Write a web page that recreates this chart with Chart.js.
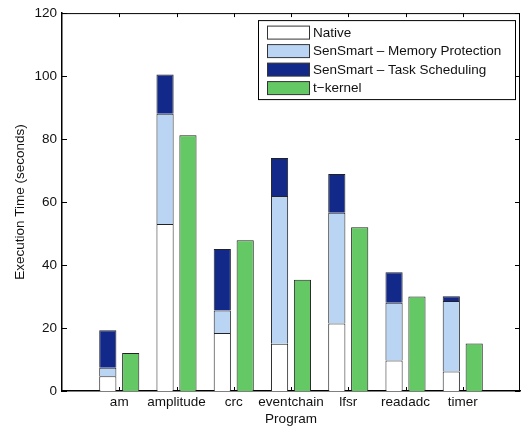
<!DOCTYPE html>
<html>
<head>
<meta charset="utf-8">
<script src="https://cdn.jsdelivr.net/npm/chart.js@4/dist/chart.umd.min.js"></script>
<style>
html,body{margin:0;padding:0;background:#fff;}
canvas{display:block;}
</style>
</head>
<body>
<canvas id="c" width="526" height="427"></canvas>
<script>
// ---- data ----
const programs = ['am', 'amplitude', 'crc', 'eventchain', 'lfsr', 'readadc', 'timer'];
const nativeTime = [4.7, 53.0, 18.4, 15.0, 21.4, 9.7, 6.2];
const memProtExtra = [2.7, 35.0, 7.2, 46.9, 35.2, 18.3, 22.4];
const taskSchedExtra = [11.9, 12.5, 19.5, 12.1, 12.3, 9.7, 1.5];
const tKernelTime = [12.1, 81.2, 47.9, 35.3, 52.0, 30.0, 15.1];
const yTicks = [0, 20, 40, 60, 80, 100, 120];
const seriesNames = ['Native', 'SenSmart \u2013 Memory Protection', 'SenSmart \u2013 Task Scheduling', 't\u2212kernel'];

// pad with empty categories so the axis spans 0..8 like the original
const labels = [''].concat(programs, ['']);
const pad = a => [null].concat(a, [null]);

const FONT = "'Liberation Sans', Arial, Helvetica, sans-serif";
const TXT = '#111';
const EDGE = '#222';

const frameTicks = {
  id: 'frameTicks',
  afterDatasetsDraw(chart) {
    const {ctx, chartArea: a, scales: {x, y}} = chart;
    ctx.save();
    ctx.strokeStyle = '#000';
    ctx.lineWidth = 1;
    ctx.beginPath();
    ctx.moveTo(a.left, a.top + 0.5); ctx.lineTo(a.right, a.top + 0.5);
    ctx.moveTo(a.right - 0.5, a.top); ctx.lineTo(a.right - 0.5, a.bottom);
    yTicks.forEach(v => {
      const py = Math.round(y.getPixelForValue(v)) + 0.5;
      ctx.moveTo(a.left, py); ctx.lineTo(a.left + 5, py);
      ctx.moveTo(a.right, py); ctx.lineTo(a.right - 5, py);
    });
    programs.forEach((p, i) => {
      const px = Math.round(x.getPixelForValue(i + 1)) + 0.5;
      ctx.moveTo(px, a.bottom); ctx.lineTo(px, a.bottom - 4);
      ctx.moveTo(px, a.top); ctx.lineTo(px, a.top + 4);
    });
    ctx.stroke();
    ctx.restore();
  }
};

const boxLegend = {
  id: 'boxLegend',
  afterDraw(chart) {
    const {ctx, chartArea: a} = chart;
    const right = a.right - 4, top = a.top + 7, w = 258, h = 80;
    const left = right - w;
    ctx.save();
    ctx.fillStyle = '#fff';
    ctx.fillRect(left, top, w, h);
    ctx.strokeStyle = '#000';
    ctx.lineWidth = 1;
    ctx.strokeRect(left + 0.5, top + 0.5, w - 1, h - 1);
    ctx.font = '13.5px ' + FONT;
    ctx.textBaseline = 'middle';
    ctx.textAlign = 'left';
    chart.data.datasets.forEach((ds, i) => {
      const cy = top + 12.5 + i * 18.5;
      ctx.fillStyle = ds.backgroundColor;
      ctx.fillRect(left + 9, cy - 6.5, 43, 13);
      ctx.strokeStyle = '#333';
      ctx.strokeRect(left + 9.5, cy - 6.5, 42, 13);
      ctx.fillStyle = TXT;
      ctx.fillText(ds.label, left + 55, cy + 0.5);
    });
    ctx.restore();
  }
};

const common = {borderColor: EDGE, borderWidth: 1, borderSkipped: 'start',
  categoryPercentage: 0.8, barPercentage: 0.75};

new Chart(document.getElementById('c'), {
  type: 'bar',
  data: {
    labels: labels,
    datasets: [
      Object.assign({label: seriesNames[0], data: pad(nativeTime), backgroundColor: '#ffffff', stack: 's'}, common),
      Object.assign({label: seriesNames[1], data: pad(memProtExtra), backgroundColor: '#bad5f3', stack: 's'}, common),
      Object.assign({label: seriesNames[2], data: pad(taskSchedExtra), backgroundColor: '#13298a', stack: 's'}, common),
      Object.assign({label: seriesNames[3], data: pad(tKernelTime), backgroundColor: '#64c864', stack: 't'}, common)
    ]
  },
  options: {
    responsive: false,
    animation: false,
    devicePixelRatio: 1,
    layout: {padding: {top: 9, right: 6, left: 0, bottom: 0}},
    plugins: {legend: {display: false}, tooltip: {enabled: false}},
    scales: {
      x: {
        type: 'category',
        offset: false,
        stacked: true,
        grid: {display: false, drawTicks: false},
        border: {display: true, color: '#000', width: 1.5},
        ticks: {font: {family: FONT, size: 13.5}, color: TXT, padding: 3, maxRotation: 0, autoSkip: false},
        title: {display: true, text: 'Program', font: {family: FONT, size: 13.5}, color: TXT, padding: {top: 0, bottom: 0}},
        afterFit(s) { s.height = 36; }
      },
      y: {
        type: 'linear',
        stacked: true,
        min: 0, max: 120,
        grid: {display: false, drawTicks: false},
        border: {display: true, color: '#000', width: 1.5},
        afterBuildTicks(s) { s.ticks = yTicks.map(v => ({value: v})); },
        ticks: {font: {family: FONT, size: 13.5}, color: TXT, padding: 5},
        title: {display: true, text: 'Execution Time (seconds)', font: {family: FONT, size: 13.5}, color: TXT, padding: {top: 12, bottom: 0}},
        afterFit(s) { s.width = 62; }
      }
    }
  },
  plugins: [frameTicks, boxLegend]
});
</script>
</body>
</html>
